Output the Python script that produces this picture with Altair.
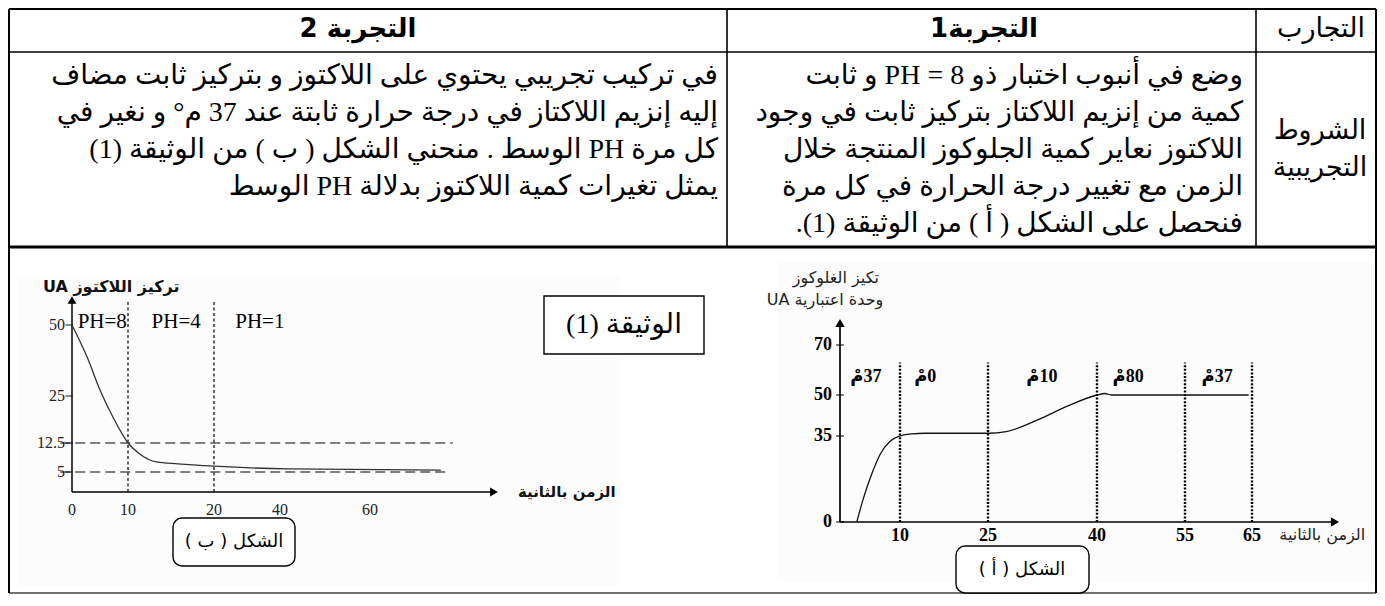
import altair as alt
import pandas as pd

# ---------------- values ----------------
# Figure (b): lactose concentration (UA) against time (s)
b_time = [0, 2.7, 5, 7.3, 10, 11.4, 13.3, 15.8, 20, 42, 76]
b_lactose = [50, 38.7, 27.1, 19.4, 12.5, 9.6, 7.6, 7.1, 6.5, 5.8, 5.5]
b_x_ticks = [0, 10, 20, 40, 60]
b_y_ticks = [5, 12.5, 25, 50]
b_ph_limits = [10, 20]
b_ph_names = ["PH=8", "PH=4", "PH=1"]
b_ph_at = [5.4, 15.6, 33.9]
b_levels = [12.5, 5]
b_level_ends = [78.7, 77.8]

# Figure (a): glucose concentration (UA) against time (s)
a_time = [2.8, 3.8, 5.3, 6.7, 8.3, 10, 12, 14.3, 18, 25, 27.5, 31.5, 36, 40, 41.3, 42.5, 55, 64.5]
a_glucose = [0, 8.8, 19.6, 27.6, 32.8, 35, 35.8, 36, 36, 36, 36.6, 40.5, 46, 50, 50.6, 50, 50, 50]
a_x_ticks = [10, 25, 40, 55, 65]
a_y_ticks = [0, 35, 50, 70]
a_limits = [10, 25, 40, 55, 65]
a_temps = ["37مْ", "0مْ", "10مْ", "80مْ", "37مْ"]
a_temp_at = [4.3, 14.3, 32.4, 45.3, 59.8]

# table text
head_exp2 = "التجربة 2"
head_exp1 = "التجربة1"
head_col = "التجارب"
row_label = ["الشروط", "التجريبية"]
exp2_lines = [
    "في تركيب تجريبي يحتوي على اللاكتوز و بتركيز ثابت مضاف",
    "إليه إنزيم اللاكتاز في درجة حرارة ثابتة عند 37 م° و نغير في",
    "كل مرة PH الوسط . منحني الشكل ( ب ) من الوثيقة (1)",
    "يمثل تغيرات كمية اللاكتوز بدلالة PH الوسط",
]
exp1_lines = [
    "وضع في أنبوب اختبار ذو  PH = 8 و ثابت",
    "كمية من إنزيم اللاكتاز بتركيز ثابت في وجود",
    "اللاكتوز نعاير كمية  الجلوكوز  المنتجة خلال",
    "الزمن مع تغيير درجة الحرارة في كل مرة",
    "فنحصل على الشكل ( أ ) من الوثيقة (1).",
]
b_title = "تركيز اللاكتوز UA"
a_title = ["تكيز الغلوكوز", "وحدة اعتبارية UA"]
time_title = "الزمن بالثانية"
doc_label = "الوثيقة (1)"
fig_b_label = "الشكل ( ب )"
fig_a_label = "الشكل ( أ )"

# ---------------- layout helpers (reference pixel -> plot pixel) ----------------
W, H = 1369, 586


def X(r):
    return min(max(r - 8, 1), W - 1)


def Y(r):
    return min(max(r - 8, 1), H - 1)


def rtl(s):
    return "\u202b" + s + "\u202c"


SERIF = "Liberation Serif, DejaVu Sans"
SANS = "DejaVu Sans"
ONE = alt.Data(values=[{}])


def hline(x1, x2, y, w=1.5, color="black"):
    return alt.Chart(ONE).mark_rule(color=color, strokeWidth=w).encode(
        x=alt.value(X(x1)), x2=alt.value(X(x2)), y=alt.value(Y(y)))


def vline(x, y1, y2, w=1.5, color="black"):
    return alt.Chart(ONE).mark_rule(color=color, strokeWidth=w).encode(
        x=alt.value(X(x)), y=alt.value(Y(y1)), y2=alt.value(Y(y2)))


def label(txt, x, y, size, align="center", weight="normal", font=SANS):
    return alt.Chart(ONE).mark_text(
        text=rtl(txt), align=align, baseline="middle", fontSize=size,
        fontWeight=weight, font=font, color="black").encode(
        x=alt.value(X(x)), y=alt.value(Y(y)))


def box(x1, x2, y1, y2, radius=0, stroke="black", fill="white", w=1.4):
    return alt.Chart(ONE).mark_rect(
        fill=fill, stroke=stroke, strokeWidth=w, cornerRadius=radius).encode(
        x=alt.value(X(x1)), x2=alt.value(X(x2)), y=alt.value(Y(y1)), y2=alt.value(Y(y2)))


def panel(x1, x2, y1, y2):
    return alt.Chart(ONE).mark_rect(fill="#fcfcfc").encode(
        x=alt.value(X(x1)), x2=alt.value(X(x2)), y=alt.value(Y(y1)), y2=alt.value(Y(y2)))


# ---------------- table ----------------
TOP, HEAD, BODY, BOTTOM = 6, 52, 247, 602
LEFT, RIGHT, DIV1, DIV2 = 2, 1382, 727, 1256

table = [
    panel(17, 620, 276, 586),
    panel(777, 1374, 262, 582),
    hline(LEFT, RIGHT, TOP, 2),
    hline(LEFT, RIGHT, HEAD, 1.6),
    hline(LEFT, RIGHT, BODY, 3.2),
    hline(LEFT, RIGHT, BOTTOM, 1.6, "#444"),
    vline(LEFT, TOP, BOTTOM, 2),
    vline(RIGHT, TOP, BOTTOM, 2),
    vline(DIV1, TOP, BODY, 1.6),
    vline(DIV2, TOP, BODY, 1.6),
    label(head_exp2, 358, 29, 26, weight="bold"),
    label(head_exp1, 984, 29, 26, weight="bold"),
    label(head_col, 1321, 29, 27),
    label(row_label[0], 1320, 131, 27),
    label(row_label[1], 1320, 168, 27),
]
line_y = [76, 113, 150, 187, 224]
for i, t in enumerate(exp2_lines):
    table.append(label(t, 718, line_y[i], 28, align="right", font=SERIF))
for i, t in enumerate(exp1_lines):
    table.append(label(t, 1243, line_y[i], 28, align="right", font=SERIF))

table += [
    box(544, 704, 296, 354),
    label(doc_label, 624, 325, 28, font=SERIF),
    box(173, 295, 518, 566, 9),
    label(fig_b_label, 234, 542, 18),
    box(956, 1089, 546, 593, 9),
    label(fig_a_label, 1022, 570, 18),
]

# ---------------- figure (b) ----------------
bx = alt.Scale(domain=[0, 10, 20, 40, 60, 88],
               range=[X(72), X(128), X(214), X(280), X(370), X(494)], nice=False, zero=False)
by = alt.Scale(domain=[0, 5, 12.5, 25, 50, 59],
               range=[Y(492), Y(472), Y(443), Y(396), Y(325), Y(300)], nice=False, zero=False)


def bX(f):
    return alt.X(f, scale=bx, axis=None)


def bY(f):
    return alt.Y(f, scale=by, axis=None)


b_axes_df = pd.DataFrame({"t0": [0, 0], "t1": [88, 0], "v0": [0, 0], "v1": [0, 59]})
b_axes = alt.Chart(b_axes_df).mark_rule(color="black", strokeWidth=1.5).encode(
    x=bX("t0:Q"), x2="t1:Q", y=bY("v0:Q"), y2="v1:Q")

b_xt = pd.DataFrame({"t": b_x_ticks, "v": [0] * len(b_x_ticks), "lab": [str(v) for v in b_x_ticks]})
b_xlabels = alt.Chart(b_xt).mark_text(font=SERIF, fontSize=16, color="#222", dy=18).encode(
    x=bX("t:Q"), y=bY("v:Q"), text="lab:N")

b_yt = pd.DataFrame({"t": [0] * len(b_y_ticks), "v": b_y_ticks, "lab": [str(v) for v in b_y_ticks]})
b_yticks = alt.Chart(b_yt).mark_tick(orient="horizontal", size=7, thickness=1.3, color="black",
                                     xOffset=-3).encode(x=bX("t:Q"), y=bY("v:Q"))
b_ylabels = alt.Chart(b_yt).mark_text(font=SERIF, fontSize=16, color="#222", align="right",
                                      baseline="middle", dx=-7).encode(
    x=bX("t:Q"), y=bY("v:Q"), text="lab:N")

dfb = pd.DataFrame({"t": b_time, "v": b_lactose})
b_curve = alt.Chart(dfb).mark_line(color="#333", strokeWidth=1.3, interpolate="monotone").encode(
    x=bX("t:Q"), y=bY("v:Q"))

dfb_v = pd.DataFrame({"t": b_ph_limits, "lo": [0] * 2, "hi": [59] * 2})
b_vlines = alt.Chart(dfb_v).mark_rule(color="black", strokeWidth=1.2, strokeDash=[3, 2.5]).encode(
    x=bX("t:Q"), y=bY("lo:Q"), y2="hi:Q")

dfb_h = pd.DataFrame({"v": b_levels, "t0": [-2.1] * 2, "t1": b_level_ends})
b_hlines = alt.Chart(dfb_h).mark_rule(color="#555", strokeWidth=1.3, strokeDash=[10, 5]).encode(
    y=bY("v:Q"), x=bX("t0:Q"), x2="t1:Q")

dfb_ph = pd.DataFrame({"t": b_ph_at, "v": [51.1] * 3, "name": b_ph_names})
b_ph = alt.Chart(dfb_ph).mark_text(font=SERIF, fontSize=21, color="black").encode(
    x=bX("t:Q"), y=bY("v:Q"), text="name:N")

dfb_arrow = pd.DataFrame({"t": [0, 88], "v": [59, 0], "s": ["triangle-up", "triangle-right"]})
b_arrows = alt.Chart(dfb_arrow).mark_point(filled=True, color="black", size=80, opacity=1).encode(
    x=bX("t:Q"), y=bY("v:Q"), shape=alt.Shape("s:N", scale=None, legend=None))

dfb_t1 = pd.DataFrame({"t": [7.0], "v": [63.7], "txt": [rtl(b_title)]})
b_title_mark = alt.Chart(dfb_t1).mark_text(font=SANS, fontSize=16, fontWeight="bold",
                                           color="#111").encode(
    x=bX("t:Q"), y=bY("v:Q"), text="txt:N")
dfb_t2 = pd.DataFrame({"t": [93.4], "v": [0], "txt": [rtl(time_title)]})
b_xtitle = alt.Chart(dfb_t2).mark_text(font=SANS, fontSize=15, fontWeight="bold",
                                       align="left", color="#111").encode(
    x=bX("t:Q"), y=bY("v:Q"), text="txt:N")

fig_b = alt.layer(b_hlines, b_vlines, b_axes, b_yticks, b_xlabels, b_ylabels, b_curve, b_ph,
                  b_arrows, b_title_mark, b_xtitle)

# ---------------- figure (a) ----------------
ax = alt.Scale(domain=[0, 10, 25, 40, 55, 65, 78],
               range=[X(840), X(900), X(988), X(1097), X(1185), X(1252), X(1335)],
               nice=False, zero=False)
ay = alt.Scale(domain=[0, 35, 50, 70, 79],
               range=[Y(522), Y(436), Y(395), Y(345), Y(323)], nice=False, zero=False)


def aX(f):
    return alt.X(f, scale=ax, axis=None)


def aY(f):
    return alt.Y(f, scale=ay, axis=None)


a_axes_df = pd.DataFrame({"t0": [0, 0], "t1": [78, 0], "v0": [0, 0], "v1": [0, 79]})
a_axes = alt.Chart(a_axes_df).mark_rule(color="black", strokeWidth=1.7).encode(
    x=aX("t0:Q"), x2="t1:Q", y=aY("v0:Q"), y2="v1:Q")

a_xt = pd.DataFrame({"t": a_x_ticks, "v": [0] * len(a_x_ticks), "lab": [str(v) for v in a_x_ticks]})
a_xlabels = alt.Chart(a_xt).mark_text(font=SERIF, fontSize=18, fontWeight="bold", color="black",
                                      dy=14).encode(x=aX("t:Q"), y=aY("v:Q"), text="lab:N")

a_yt = pd.DataFrame({"t": [0] * len(a_y_ticks), "v": a_y_ticks,
                     "lab": [str(v) for v in a_y_ticks],
                     "side": [-3 if v == 0 else 4 for v in a_y_ticks]})
a_yticks = alt.Chart(a_yt).mark_tick(orient="horizontal", size=8, thickness=1.4,
                                     color="black").encode(
    x=aX("t:Q"), y=aY("v:Q"), xOffset=alt.XOffset("side:Q", scale=None))
a_ylabels = alt.Chart(a_yt).mark_text(font=SERIF, fontSize=18, fontWeight="bold", color="black",
                                      align="right", baseline="middle", dx=-8).encode(
    x=aX("t:Q"), y=aY("v:Q"), text="lab:N")

dfa = pd.DataFrame({"t": a_time, "v": a_glucose})
a_curve = alt.Chart(dfa).mark_line(color="#111", strokeWidth=1.3, interpolate="monotone").encode(
    x=aX("t:Q"), y=aY("v:Q"))

dfa_v = pd.DataFrame({"t": a_limits, "lo": [0] * 5, "hi": [63] * 5})
a_vlines = alt.Chart(dfa_v).mark_rule(color="black", strokeWidth=2.4, strokeDash=[2, 1.6]).encode(
    x=aX("t:Q"), y=aY("lo:Q"), y2="hi:Q")

dfa_temp = pd.DataFrame({"t": a_temp_at, "v": [57.2] * 5, "txt": [rtl(s) for s in a_temps]})
a_temp = alt.Chart(dfa_temp).mark_text(font=SERIF, fontSize=18, fontWeight="bold",
                                       color="black").encode(
    x=aX("t:Q"), y=aY("v:Q"), text="txt:N")

dfa_arrow = pd.DataFrame({"t": [0, 78], "v": [79, 0], "s": ["triangle-up", "triangle-right"]})
a_arrows = alt.Chart(dfa_arrow).mark_point(filled=True, color="black", size=90, opacity=1).encode(
    x=aX("t:Q"), y=aY("v:Q"), shape=alt.Shape("s:N", scale=None, legend=None))

dfa_txt = pd.DataFrame({"t": [-0.7, -2.5, 76], "v": [97.4, 88.4, -5.3],
                        "txt": [rtl(a_title[0]), rtl(a_title[1]), rtl(time_title)]})
a_texts = alt.Chart(dfa_txt).mark_text(font=SANS, fontSize=16, color="#222").encode(
    x=aX("t:Q"), y=aY("v:Q"), text="txt:N")

fig_a = alt.layer(a_vlines, a_axes, a_yticks, a_xlabels, a_ylabels, a_curve, a_temp, a_arrows,
                  a_texts)

chart = alt.layer(*table, fig_b, fig_a).resolve_scale(
    x="independent", y="independent", shape="independent", xOffset="independent"
).properties(
    width=W, height=H, padding=0, autosize="none", background="white"
).configure_view(stroke=None)

chart.save("out.html", embed_options={"renderer": "svg", "actions": False})
